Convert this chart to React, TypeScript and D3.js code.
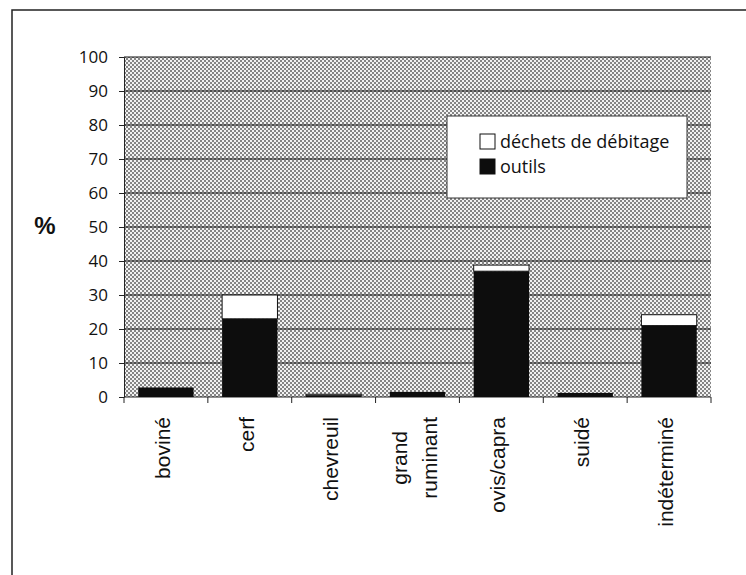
import * as d3 from 'd3';
import React, { useRef, useEffect } from 'react';

const categories = ['boviné', 'cerf', 'chevreuil', 'grand\nruminant', 'ovis/capra', 'suidé', 'indéterminé'];
const outils = [2.8, 23, 0.4, 1.5, 37, 1.2, 21];
const dechets = [0, 7, 0.4, 0, 1.8, 0, 3.2];
const yTicks = [0, 10, 20, 30, 40, 50, 60, 70, 80, 90, 100];
const seriesNames = ['déchets de débitage', 'outils'];

const W = 746;
const H = 575;

export default function App() {
    const ref = useRef<SVGSVGElement | null>(null);

    useEffect(() => {
        const svg = d3.select(ref.current);
        svg.selectAll('*').remove();

        const left = 124, right = 711, top = 57, bottom = 397;
        const x = d3.scaleBand().domain(categories).range([left, right]).paddingInner(0.34).paddingOuter(0.17);
        const xb = d3.scaleBand().domain(categories).range([left, right]);
        const y = d3.scaleLinear().domain([0, 100]).range([bottom, top]);

        // dotted background pattern (checker)
        const defs = svg.append('defs');
        const pat = defs.append('pattern')
            .attr('id', 'dots')
            .attr('width', 4).attr('height', 4)
            .attr('patternUnits', 'userSpaceOnUse');
        pat.append('rect').attr('width', 4).attr('height', 4).attr('fill', '#f2f2f2');
        pat.append('rect').attr('width', 2).attr('height', 2).attr('fill', '#858585');
        pat.append('rect').attr('x', 2).attr('y', 2).attr('width', 2).attr('height', 2).attr('fill', '#858585');

        // outer frame
        svg.append('rect')
            .attr('x', 12).attr('y', 10)
            .attr('width', W + 20).attr('height', H + 20)
            .attr('fill', 'white').attr('stroke', '#222').attr('stroke-width', 1.5);

        svg.append('rect')
            .attr('x', left).attr('y', top)
            .attr('width', right - left).attr('height', bottom - top)
            .attr('fill', 'url(#dots)');

        // gridlines
        svg.append('g')
            .selectAll('line')
            .data(yTicks.filter(d => d > 0))
            .join('line')
            .attr('x1', left).attr('x2', right)
            .attr('y1', d => y(d)).attr('y2', d => y(d))
            .attr('stroke', '#111').attr('stroke-width', 1);

        // y axis
        const yAxis = svg.append('g')
            .attr('transform', `translate(${left},0)`)
            .call(d3.axisLeft(y).tickValues(yTicks).tickSize(5).tickSizeOuter(0));
        yAxis.select('.domain').attr('stroke', '#222');
        yAxis.selectAll('.tick line').attr('stroke', '#222');
        yAxis.selectAll('.tick text')
            .attr('x', -16)
            .style('font-family', '"Open Sans", sans-serif')
            .style('font-size', '17px')
            .attr('fill', '#111');

        // x axis line + ticks at band boundaries
        svg.append('line')
            .attr('x1', left).attr('x2', right)
            .attr('y1', bottom).attr('y2', bottom)
            .attr('stroke', '#222');
        const bounds = categories.map(c => xb(c) as number).concat([right]);
        svg.append('g')
            .selectAll('line')
            .data(bounds)
            .join('line')
            .attr('x1', d => d).attr('x2', d => d)
            .attr('y1', bottom).attr('y2', bottom + 6)
            .attr('stroke', '#222');

        // bars
        const bars = svg.append('g');
        categories.forEach((c, i) => {
            const bx = x(c) as number;
            const bw = x.bandwidth();
            bars.append('rect')
                .attr('x', bx).attr('y', y(outils[i]))
                .attr('width', bw).attr('height', y(0) - y(outils[i]))
                .attr('fill', '#0d0d0d');
            if (dechets[i] > 0) {
                bars.append('rect')
                    .attr('x', bx).attr('y', y(outils[i] + dechets[i]))
                    .attr('width', bw).attr('height', y(outils[i]) - y(outils[i] + dechets[i]))
                    .attr('fill', 'white').attr('stroke', '#111').attr('stroke-width', 1);
            }
        });

        // category labels (rotated)
        const labelTop = 417;
        categories.forEach(c => {
            const cx = (xb(c) as number) + xb.bandwidth() / 2;
            const lines = c.split('\n');
            const t = svg.append('text')
                .style('font-family', '"Liberation Sans", Arial, sans-serif')
                .style('font-size', '21px')
                .attr('fill', '#111');
            const spans = lines.map(ln => t.append('tspan').text(ln));
            const lens = spans.map(s => (s.node() as SVGTSpanElement).getComputedTextLength());
            const maxLen = d3.max(lens) as number;
            const gap = 30;
            spans.forEach((s, j) => {
                const off = (j - (lines.length - 1) / 2) * gap;
                s.attr('text-anchor', 'middle')
                    .attr('x', -(labelTop + maxLen / 2))
                    .attr('y', cx + off + 4);
            });
            t.attr('transform', 'rotate(-90)');
        });

        // y title
        svg.append('text')
            .attr('x', 45).attr('y', 234)
            .attr('text-anchor', 'middle')
            .style('font-family', '"Liberation Sans", Arial, sans-serif')
            .style('font-size', '24px')
            .style('font-weight', 'bold')
            .attr('fill', '#111')
            .text('%');

        // legend
        const lg = svg.append('g');
        lg.append('rect')
            .attr('x', 447).attr('y', 116)
            .attr('width', 240).attr('height', 82)
            .attr('fill', 'white').attr('stroke', '#333').attr('stroke-width', 1);
        const fills = ['white', '#0d0d0d'];
        seriesNames.forEach((s, i) => {
            const ly = 142 + i * 25;
            lg.append('rect')
                .attr('x', 480).attr('y', ly - 8)
                .attr('width', 15).attr('height', 15)
                .attr('fill', fills[i]).attr('stroke', '#111').attr('stroke-width', 1);
            lg.append('text')
                .attr('x', 500).attr('y', ly + 6)
                .style('font-family', '"Open Sans", sans-serif')
                .style('font-size', '18px')
                .attr('fill', '#111')
                .text(s);
        });
    }, []);

    return (
        <svg
            ref={ref}
            width={W}
            height={H}
            style={{ position: 'absolute', left: 0, top: 0, background: 'white' }}
        />
    );
}
